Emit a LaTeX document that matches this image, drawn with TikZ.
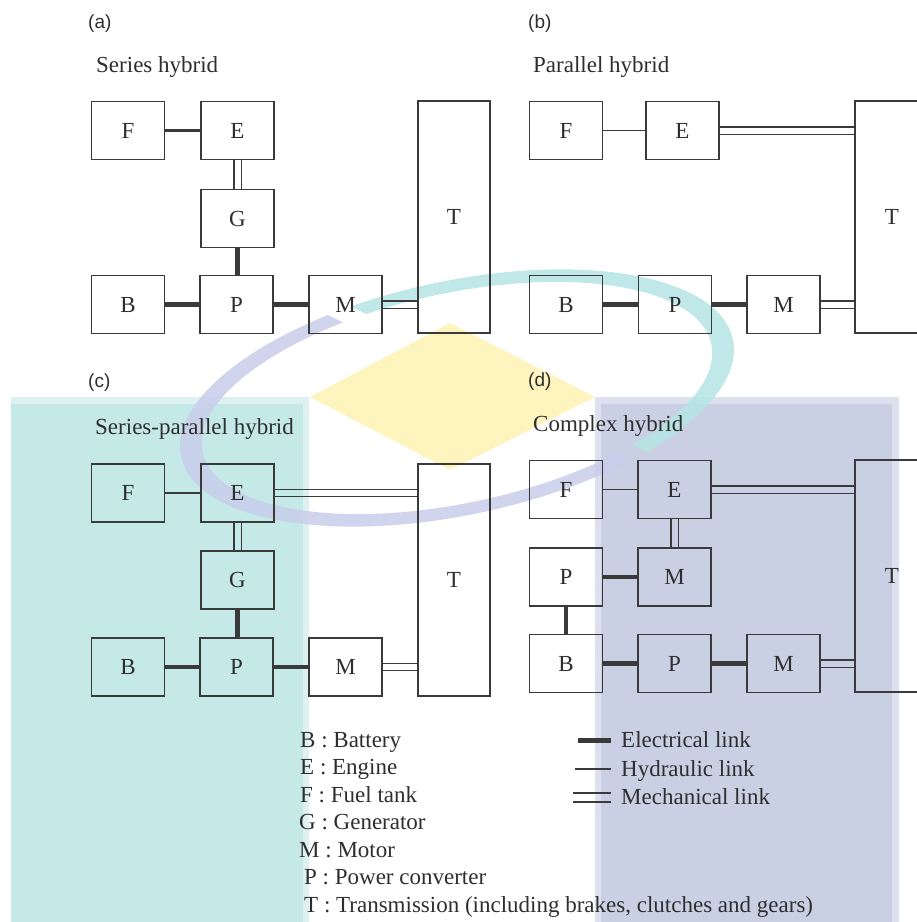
\documentclass[tikz,border=0pt]{standalone}
\usepackage{fontspec}
\setmainfont{Liberation Serif}
\newfontfamily\labfont{Liberation Sans}
\definecolor{linecol}{HTML}{3A3A3A}
\definecolor{txtcol}{HTML}{2E2E2E}
\definecolor{tealbg}{HTML}{C4E9E7}
\definecolor{tealedge}{HTML}{DDF1F0}
\definecolor{bluebg}{HTML}{C9D0E4}
\definecolor{blueedge}{HTML}{DDE1EF}
\definecolor{yel}{HTML}{FDF4BE}
\definecolor{ringteal}{RGB}{182,229,229}
\definecolor{ringblue}{RGB}{200,205,235}
\begin{document}
\begin{tikzpicture}[x=1pt,y=-1pt,
 box/.style={draw=linecol,line width=1.3pt,inner sep=0pt,minimum width=73pt,minimum height=58pt,text=txtcol,font=\fontsize{23}{26}\selectfont},
 tall/.style={box,minimum width=72pt,minimum height=232pt},
 title/.style={anchor=base west,inner sep=0pt,text=txtcol,font=\fontsize{23}{26}\selectfont},
 plab/.style={anchor=base west,inner sep=0pt,text=txtcol,font=\labfont\fontsize{19}{22}\selectfont},
 elec/.style={draw=linecol,line width=4.5pt},
 hyd/.style={draw=linecol,line width=1.2pt},
 mechh/.style={preaction={draw=linecol,line width=1.2pt,transform canvas={yshift=3.6pt}},postaction={draw=linecol,line width=1.2pt,transform canvas={yshift=-3.6pt}}},
 mechv/.style={preaction={draw=linecol,line width=1.2pt,transform canvas={xshift=3.6pt}},postaction={draw=linecol,line width=1.2pt,transform canvas={xshift=-3.6pt}}},
 ring/.style={even odd rule,fill opacity=.85,shift={(457,398)},rotate=12}
]
\useasboundingbox (0,0) rectangle (917,922);
\fill[white] (0,0) rectangle (917,922);
% background watermark shapes
\fill[tealedge] (11,397) rectangle (309,922);
\fill[tealbg] (11,404) rectangle (303,922);
\fill[blueedge] (595,397) rectangle (899,922);
\fill[bluebg] (601,404) rectangle (892,922);
\fill[yel] (310,397) -- (450,323) -- (595,397) -- (450,470) -- cycle;
\begin{scope}
 \clip (-198,37) -- (1177,712) -- (1177,-300) -- (-198,-300) -- cycle;
 \fill[ringteal,ring] (0,0) ellipse [x radius=282, y radius=117] (0,0) ellipse [x radius=260, y radius=105];
\end{scope}
\begin{scope}
 \clip (-206,53) -- (1169,728) -- (1169,1300) -- (-206,1300) -- cycle;
 \fill[ringblue,ring] (0,0) ellipse [x radius=282, y radius=117] (0,0) ellipse [x radius=260, y radius=105];
\end{scope}

% (a) Series hybrid
\node[plab] (la) at (88,28) {(a)};
\node[title] (ta) at (96,72) {Series hybrid};
\node[box] (Fa) at (128,130.5) {F};
\node[box] (Ea) at (237.5,130.5) {E};
\node[box] (Ga) at (237.5,218.5) {G};
\node[box] (Ba) at (128,304.5) {B};
\node[box] (Pa) at (236.5,304.5) {P};
\node[box] (Ma) at (345.5,304.5) {M};
\node[tall] (Ta) at (454,217) {T};
\draw[draw=linecol,line width=2.5pt] (Fa.east) -- (Ea.west);
\path[mechv] (Ea.south) -- (Ga.north);
\draw[elec] (Ga.south) -- (Ga.south |- Pa.north);
\draw[elec] (Ba.east) -- (Pa.west);
\draw[elec] (Pa.east) -- (Ma.west);
\path[mechh] (Ma.east) -- (Ma.east -| Ta.west);

% (b) Parallel hybrid
\node[plab] (lb) at (528,28) {(b)};
\node[title] (tb) at (533,72) {Parallel hybrid};
\node[box] (Fb) at (566,130.5) {F};
\node[box] (Eb) at (682.5,130.5) {E};
\node[box] (Bb) at (566,304.5) {B};
\node[box] (Pb) at (675,304.5) {P};
\node[box] (Mb) at (783.5,304.5) {M};
\node[tall,minimum width=74pt] (Tb) at (892,217) {T};
\draw[hyd] (Fb.east) -- (Eb.west);
\path[mechh] (Eb.east) -- (Eb.east -| Tb.west);
\draw[elec] (Bb.east) -- (Pb.west);
\draw[elec] (Pb.east) -- (Mb.west);
\path[mechh] (Mb.east) -- (Mb.east -| Tb.west);

% (c) Series-parallel hybrid
\node[plab] (lc) at (88,387) {(c)};
\node[title] (tc) at (95,434) {Series-parallel hybrid};
\node[box] (Fc) at (128,493) {F};
\node[box] (Ec) at (237.5,493) {E};
\node[box] (Gc) at (237.5,580) {G};
\node[box] (Bc) at (128,667) {B};
\node[box] (Pc) at (236.5,667) {P};
\node[box] (Mc) at (345.5,667) {M};
\node[tall] (Tc) at (454,580) {T};
\draw[hyd] (Fc.east) -- (Ec.west);
\path[mechh] (Ec.east) -- (Ec.east -| Tc.west);
\path[mechv] (Ec.south) -- (Gc.north);
\draw[elec] (Gc.south) -- (Gc.south |- Pc.north);
\draw[elec] (Bc.east) -- (Pc.west);
\draw[elec] (Pc.east) -- (Mc.west);
\path[mechh] (Mc.east) -- (Mc.east -| Tc.west);

% (d) Complex hybrid
\node[plab] (ld) at (528,386) {(d)};
\node[title] (td) at (533,431) {Complex hybrid};
\node[box] (Fd) at (566,489.5) {F};
\node[box] (Ed) at (674.5,489.5) {E};
\node[box] (Pd1) at (566,577) {P};
\node[box] (Md1) at (674.5,577) {M};
\node[box] (Bd) at (566,663.5) {B};
\node[box] (Pd2) at (674.5,663.5) {P};
\node[box] (Md2) at (783.5,663.5) {M};
\node[tall,minimum width=74pt] (Td) at (892,576) {T};
\draw[hyd] (Fd.east) -- (Ed.west);
\path[mechh] (Ed.east) -- (Ed.east -| Td.west);
\path[mechv] (Ed.south) -- (Md1.north);
\draw[elec] (Pd1.east) -- (Md1.west);
\draw[elec] (Pd1.south) -- (Bd.north);
\draw[elec] (Bd.east) -- (Pd2.west);
\draw[elec] (Pd2.east) -- (Md2.west);
\path[mechh] (Md2.east) -- (Md2.east -| Td.west);

% legend
\node[title] (k1) at (300,747) {B : Battery};
\node[title] (k2) at (300,774.5) {E : Engine};
\node[title] (k3) at (300,802) {F : Fuel tank};
\node[title] (k4) at (299,829.5) {G : Generator};
\node[title] (k5) at (299,857) {M : Motor};
\node[title] (k6) at (304,884.5) {P : Power converter};
\node[title] (k7) at (304,912) {T : Transmission (including brakes, clutches and gears)};
\node[title] (le) at (621,747.5) {Electrical link};
\node[title] (lh) at (621,776) {Hydraulic link};
\node[title] (lm) at (621,804.5) {Mechanical link};
\coordinate (e1) at (578,740);
\coordinate (e2) at (611,740);
\coordinate (h1) at (575,769);
\coordinate (h2) at (611,769);
\coordinate (m1) at (573,797.5);
\coordinate (m2) at (611,797.5);
\draw[draw=linecol,line width=5pt] (e1) -- (e2);
\draw[hyd] (h1) -- (h2);
\path[preaction={draw=linecol,line width=1.2pt,transform canvas={yshift=4.5pt}},postaction={draw=linecol,line width=1.2pt,transform canvas={yshift=-4.5pt}}] (m1) -- (m2);
\end{tikzpicture}
\end{document}
